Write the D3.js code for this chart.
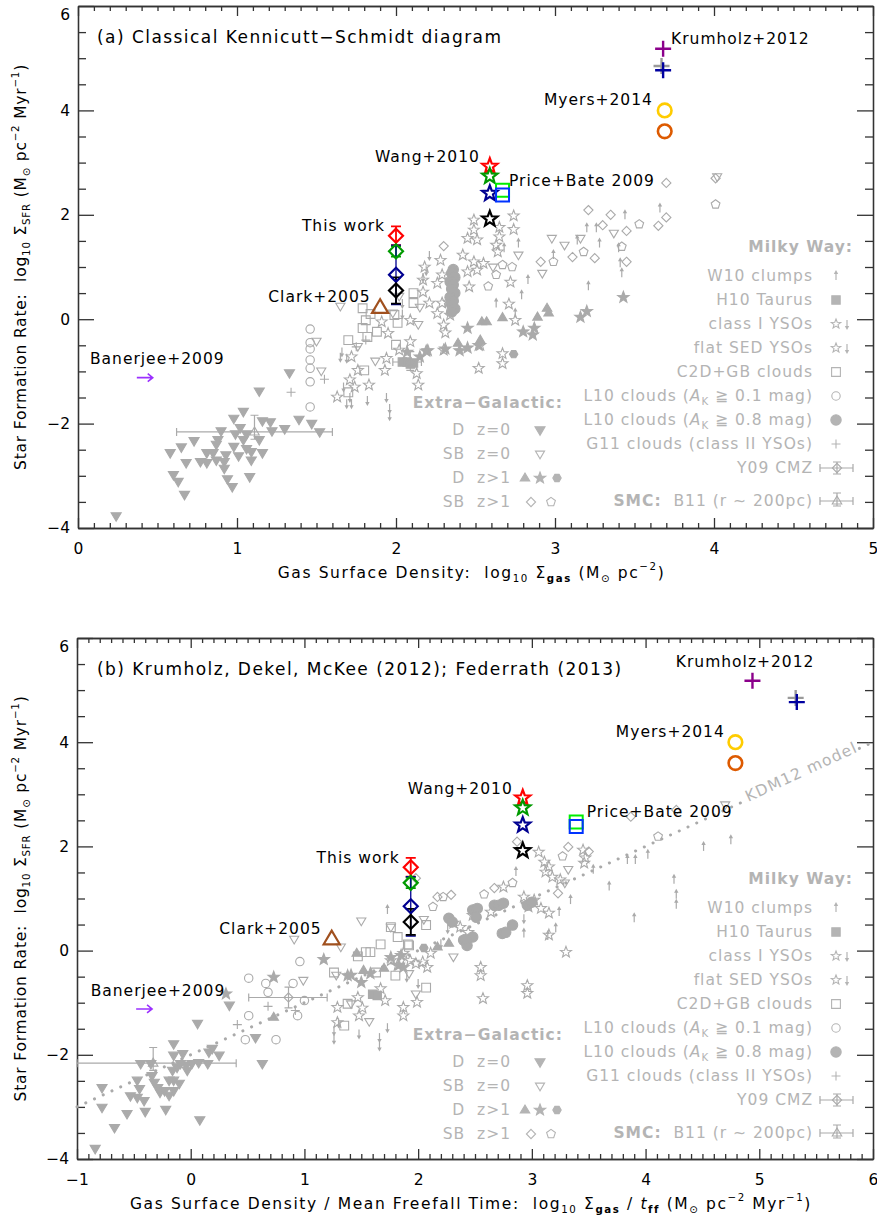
<!DOCTYPE html>
<html><head><meta charset="utf-8">
<script src="https://cdn.jsdelivr.net/npm/d3@7"></script>
<style>
body{margin:0;background:#fff;}
text{font-family:"DejaVu Sans",sans-serif;white-space:pre;}
</style></head><body><div id="chart"></div>
<script>
// ---------- data: panel (a), x = log Sigma_gas ----------
const aDz0 = [[0.24,-3.77],[1.33,-1.03],[1.14,-1.38],[1.04,-1.77],[0.98,-1.90],[1.21,-1.97],[1.16,-1.95],[1.39,-1.92],[1.47,-2.0],[1.30,-2.10],[1.22,-2.14],[1.52,-2.16],[0.90,-2.14],[0.99,-2.20],[1.06,-2.20],[1.02,-2.08],[0.73,-2.33],[0.88,-2.31],[1.14,-2.31],[0.58,-2.56],[0.65,-2.45],[0.81,-2.56],[0.87,-2.40],[0.98,-2.44],[1.06,-2.48],[1.09,-2.54],[1.16,-2.56],[1.01,-2.62],[0.85,-2.56],[0.93,-2.60],[0.68,-2.75],[0.81,-2.75],[0.87,-2.70],[0.92,-2.73],[0.92,-2.86],[1.09,-2.70],[0.60,-2.98],[0.63,-3.11],[0.67,-3.36],[0.94,-3.06],[0.97,-3.21],[1.08,-3.02],[1.04,-2.31],[0.77,-2.73]];
const aSBz0 = [[1.50,-0.42],[1.53,-0.99],[1.65,0.25],[1.98,0.12],[2.14,-0.10],[1.87,-0.80],[2.02,0.44],[2.15,0.23],[2.98,1.55],[3.06,1.42],[3.16,1.55],[3.37,1.65],[2.77,1.23],[2.92,0.88],[4.02,2.73],[2.61,1.00],[1.76,-0.52]];
const aDz1Tri = [[2.54,-0.05],[2.57,-0.05],[2.67,0.03],[2.89,0.04],[2.96,0.12],[2.95,0.21],[2.39,-0.46],[2.53,-0.40]];
const aDz1Star = [[2.45,-0.17],[2.45,-0.55],[2.52,-0.50],[2.80,-0.24],[2.86,-0.30],[2.87,-0.17],[3.16,0.04],[3.20,0.15],[3.43,0.42],[2.07,-0.63],[2.20,-0.60],[2.15,-0.72],[2.40,-0.60],[2.31,-0.57],[2.19,-0.61]];
const aDz1Hex = [[2.74,-0.67]];
const aSBz1Diam = [[3.21,2.09],[3.35,2.00],[3.45,1.69],[3.65,1.79],[3.70,1.95],[3.70,2.61],[4.01,2.70],[2.91,1.10],[3.11,1.19],[3.25,1.17],[3.45,1.10],[3.30,1.80],[2.30,1.40]];
const aSBz1Pent = [[3.53,1.82],[4.01,2.20],[2.99,1.10],[3.18,1.29],[3.42,1.39],[2.67,1.04],[2.73,1.00],[2.63,0.85],[2.58,0.63]];
const aW10 = [[3.20,1.74],[3.26,1.74],[3.44,1.99],[3.66,2.12],[3.14,1.51],[3.28,1.45],[3.40,1.36],[3.41,1.07],[3.42,0.88],[3.21,0.63],[2.99,1.23],[2.83,0.75],[2.79,0.46],[2.77,1.45],[2.63,0.30],[2.75,0.11],[2.68,1.36]];
const aH10 = [[2.04,-0.82],[2.07,-0.82],[2.09,-0.86],[2.11,-0.84]];
const aYSO = [[1.63,-1.49],[1.71,-1.16],[1.72,-0.72],[1.76,-0.98],[1.74,-1.30],[1.83,-1.26],[1.93,-0.98],[1.94,-0.75],[2.09,-0.43],[2.13,-1.04],[2.14,-1.26],[2.02,-0.59],[1.95,-0.27],[1.91,-0.05],[2.09,-0.02],[2.17,0.52],[2.21,0.31],[2.26,0.11],[2.29,0.31],[2.26,0.69],[2.28,1.13],[2.29,0.85],[2.33,0.33],[2.30,-0.11],[2.31,-0.26],[2.18,1.00],[2.17,0.75],[2.49,1.90],[2.49,1.71],[2.45,1.55],[2.51,1.52],[2.65,1.76],[2.65,1.58],[2.74,1.98],[2.74,1.72],[2.42,1.23],[2.49,1.10],[2.55,1.07],[2.51,0.94],[2.45,0.91],[2.46,0.62],[2.72,0.71],[2.71,0.29],[2.75,-0.02],[2.53,-0.50],[2.67,-0.66],[2.67,-0.85],[2.52,-0.94],[2.63,1.42],[2.64,1.29],[2.34,0.08],[2.30,-0.59]];
const aYSOLim = [[1.65,-0.72],[1.66,-0.62],[1.69,-0.74],[1.71,-1.49],[1.69,-1.61],[1.82,-1.55],[1.94,-1.49],[1.96,-1.70],[1.96,-1.84],[2.04,0.11],[2.04,0.31],[2.21,1.23],[2.19,0.94],[2.17,0.81],[1.67,-1.29],[1.72,-1.61]];
const aC2D = [[1.79,0.21],[1.81,-0.02],[1.70,-0.40],[1.80,-0.98],[1.70,-1.40],[2.11,0.50],[2.11,0.31],[2.01,-0.07],[2.00,-0.49],[1.82,-0.34],[1.88,-0.24],[1.79,-0.17],[1.99,0.08],[1.84,0.10]];
const aL10lo = [[1.46,-0.19],[1.46,-0.45],[1.46,-0.57],[1.46,-0.78],[1.46,-0.94],[1.46,-1.20],[1.46,-1.68]];
const aL10hi = [[2.36,0.95],[2.35,0.88],[2.37,0.80],[2.34,0.72],[2.36,0.66],[2.35,0.58],[2.37,0.50],[2.34,0.42],[2.36,0.35],[2.35,0.28],[2.37,0.20],[2.35,0.14]];
const aG11 = [[1.55,-1.15],[1.34,-1.40],[1.75,-0.53],[1.81,-0.40]];
const aY09 = [2.09,-0.82,1.98,2.16,-0.62,-0.98];   // x, y, xlo, xhi, yhi, ylo
const aB11 = [1.11,-2.16,0.62,1.60,-1.84,-2.30];

// ---------- data: panel (b), x = log Sigma_gas / t_ff ----------
const bDz0 = [[-0.84,-3.80],[-0.67,-3.40],[-0.78,-3.01],[-0.56,-3.13],[-0.40,-3.09],[-0.22,-3.05],[0.08,-3.25],[-0.78,-2.63],[-0.53,-2.79],[-0.47,-2.82],[-0.41,-2.88],[-0.45,-2.65],[-0.32,-2.53],[-0.29,-2.63],[-0.27,-2.72],[-0.23,-2.69],[-0.19,-2.78],[-0.15,-2.69],[-0.15,-2.49],[-0.10,-2.55],[-0.19,-2.49],[-0.16,-2.30],[-0.12,-2.24],[-0.15,-2.01],[-0.07,-1.98],[-0.04,-2.20],[-0.03,-2.30],[-0.15,-1.79],[-0.34,-2.40],[-0.35,-2.17],[-0.44,-2.17],[-0.47,-2.49],[-0.09,-2.17],[0.01,-2.17],[0.07,-2.15],[0.15,-2.17],[0.16,-1.95],[0.25,-2.01],[0.06,-1.40],[0.34,-1.05],[0.57,-1.67],[0.63,-2.17],[0.19,-1.88]];
const bSBz0 = [[0.91,0.22],[1.32,0.07],[1.50,0.57],[0.99,-0.57],[1.28,-0.47],[1.41,-1.02],[1.57,-1.36],[1.76,0.45],[1.98,-0.83],[2.05,0.60],[2.31,-0.12],[1.92,-0.44],[3.32,1.56],[3.29,1.30],[4.70,2.80]];
const bDz1Tri = [[1.46,-0.05],[2.17,0.07],[2.27,0.14],[0.73,-1.28],[1.52,-0.38],[1.70,-0.34]];
const bDz1Star = [[1.17,-0.17],[0.73,-0.51],[0.31,-0.83],[1.38,-0.48],[1.50,-0.61],[1.83,-0.28],[1.87,-0.32],[1.41,-0.47],[1.76,-0.13],[1.85,-0.09],[1.58,-0.44]];
const bDz1Hex = [[2.05,0.05]];
const bSBz1Diam = [[2.87,2.09],[3.32,1.99],[3.23,1.10],[2.67,1.20],[3.50,1.90],[3.87,2.57],[4.27,2.70],[2.29,1.07],[2.17,1.03],[1.98,1.39]];
const bSBz1Pent = [[4.11,2.19],[3.27,1.81],[2.83,1.30],[2.22,1.03],[2.58,1.08],[2.13,0.84]];
const bW10 = [[4.51,1.99],[4.75,2.12],[3.84,1.74],[3.91,1.74],[4.02,1.84],[4.25,1.36],[4.27,1.07],[4.27,0.88],[3.68,1.23],[3.90,0.62],[3.54,1.55],[3.34,0.97],[3.24,0.74],[2.93,0.33],[2.86,1.51],[3.21,0.43],[3.14,0.28],[1.73,0.78]];
const bH10 = [[1.60,-0.84],[1.64,-0.86]];
const bYSO = [[3.06,1.89],[3.11,1.70],[3.15,1.61],[3.12,1.51],[3.18,1.41],[3.25,1.36],[3.45,1.93],[3.47,1.78],[3.46,1.68],[2.75,1.22],[2.93,1.03],[3.02,0.97],[3.08,0.81],[3.15,0.72],[2.97,0.84],[3.15,0.30],[3.30,-0.03],[2.96,-0.67],[2.96,-0.82],[2.55,-0.32],[2.55,-0.48],[2.57,-0.92],[2.31,0.53],[1.87,-0.05],[1.93,-0.19],[1.98,-0.25],[2.04,-0.22],[2.08,-0.32],[2.11,-0.05],[1.76,-0.19],[1.82,-0.28],[1.71,-0.96],[1.87,-1.09],[1.87,-1.25],[1.48,-1.25],[1.29,-1.09],[1.51,-1.10],[1.99,-0.99],[2.37,0.45],[2.44,0.35],[2.64,0.74],[2.48,0.68],[1.47,-0.90],[1.67,-0.73],[1.29,-1.38]];
const bYSOLim = [[1.26,-1.53],[1.26,-1.69],[1.30,-1.38],[1.48,-1.59],[1.66,-1.66],[1.66,-1.82],[1.73,-1.47],[2.26,0.43],[2.20,0.14],[2.93,0.62],[1.90,-0.50],[2.00,-0.62]];
const bC2D = [[1.82,0.26],[1.76,0.45],[1.58,-0.03],[1.54,-0.03],[1.47,-0.11],[1.26,-0.42],[1.67,0.12],[2.07,0.49],[1.91,0.12],[1.63,-0.42],[1.80,-0.48],[2.07,-0.71],[1.35,-1.44],[1.38,-1.02],[1.92,0.10]];
const bL10lo = [[0.96,-0.21],[0.51,-0.53],[0.66,-0.63],[0.68,-0.80],[0.90,-0.63],[1.00,-0.96],[0.94,-1.25],[0.51,-1.25],[0.48,-1.71],[0.75,-1.71]];
const bL10hi = [[2.48,0.78],[2.52,0.81],[2.27,0.62],[2.40,0.20],[2.43,0.10],[2.48,0.26],[2.67,0.87],[2.42,0.22],[2.51,0.64],[2.71,0.87],[2.75,0.91],[2.74,0.33],[2.83,0.49],[2.96,0.87],[3.00,0.93],[2.77,0.35],[2.30,0.55]];
const bG11 = [[0.68,-1.07],[0.41,-1.42],[0.92,-1.15]];
const bY09 = [0.86,-0.90,0.51,1.20,-0.70,-1.10];
const bB11 = [-0.33,-2.16,-1.0,0.40,-1.86,-2.30];
const kdm12 = [[-1,-3.0],[6,4.0]];   // KDM12 model line end points

// ---------- highlighted simulations (same y in both panels) ----------
const thisWorkX = [2.00, 1.935];
const thisWorkY = [1.60, 1.30, 0.85, 0.55];
const thisWorkLo = [1.42, 1.20, 0.28, 0.30];
const thisWorkHi = [1.78, 1.40, 1.42, 0.80];
const fourColors = ["#ff0000", "#009a00", "#000090", "#000000"];
const wangX = [2.59, 2.92];
const wangY = [2.93, 2.74, 2.41, 1.92];
const priceX = [2.67, 3.39];
const priceY = [2.47, 2.38];
const priceColors = ["#00ee00", "#0033ff"];
const krumX = [[3.68, 3.67, 3.68], [4.94, 5.32, 5.33]];
const krumY = [5.18, 4.85, 4.77];
const krumColors = ["#8b008b", "#9a9a9a", "#0000a0"];
const myersX = [3.69, 4.79];
const myersY = [4.00, 3.60];
const myersColors = ["#ffcc00", "#dd5a00"];
const clarkX = [1.90, 1.24];
const clarkY = 0.20;
const banerjeeX = [[0.37, 0.47], [-0.48, -0.34]];
const banerjeeY = -1.12;

const labelsA = [["This work",1.931,1.78,"end"],["Clark+2005",1.841,0.425,"end"],["Wang+2010",2.528,3.107,"end"],["Price+Bate 2009",2.711,2.648,"start"],["Krumholz+2012",3.73,5.368,"start"],["Myers+2014",3.616,4.199,"end"],["Banerjee+2009",0.075,-0.762,"start"]];
const labelsB = [["This work",1.838,1.775,"end"],["Clark+2005",1.152,0.41,"end"],["Wang+2010",2.832,3.10,"end"],["Price+Bate 2009",3.483,2.66,"start"],["Krumholz+2012",4.266,5.544,"start"],["Myers+2014",4.697,4.198,"end"],["Banerjee+2009",-0.88,-0.783,"start"]];

const xTicksA = [0,1,2,3,4,5];
const xTicksB = [-1,0,1,2,3,4,5,6];
const yTicks = [-4,-2,0,2,4,6];

const GREY = "#aaaaaa", LGREY = "#b4b4b4", FS = 15.5;
const W = 877, H = 1217;

const svg = d3.select("#chart").append("svg").attr("width", W).attr("height", H);

// ---------- helpers ----------
function rich(sel, parts, fs) {
    let shift = 0;
    parts.forEach(function(p){
        const ts = sel.append("tspan").text(p.t);
        const target = p.sub ? fs*0.32 : (p.sup ? -fs*0.42 : 0);
        if (target !== shift) { ts.attr("dy", target - shift); shift = target; }
        if (p.sub || p.sup) ts.attr("font-size", fs*0.66);
        if (p.b) ts.attr("font-weight", "bold");
        if (p.i) ts.attr("font-style", "italic");
    });
}

function poly(n, r, rot) {
    const pts = d3.range(n).map(function(i){
        const a = rot + i*2*Math.PI/n;
        return [r*Math.sin(a), -r*Math.cos(a)];
    });
    return "M" + pts.join("L") + "Z";
}
function starPath(r) {
    const pts = d3.range(10).map(function(i){
        const a = i*Math.PI/5, rr = i%2 ? r*0.42 : r;
        return [rr*Math.sin(a), -rr*Math.cos(a)];
    });
    return "M" + pts.join("L") + "Z";
}
const SH = {
    dtri: function(r){ return "M0,"+r+"L"+(-r*0.95)+","+(-r*0.6)+"L"+(r*0.95)+","+(-r*0.6)+"Z"; },
    utri: function(r){ return "M0,"+(-r)+"L"+(-r*0.95)+","+(r*0.6)+"L"+(r*0.95)+","+(r*0.6)+"Z"; },
    diam: function(r){ return "M0,"+(-r)+"L"+r+",0L0,"+r+"L"+(-r)+",0Z"; },
    sq: function(r){ return "M"+(-r)+","+(-r)+"H"+r+"V"+r+"H"+(-r)+"Z"; },
    star: starPath,
    pent: function(r){ return poly(5, r, 0); },
    hex: function(r){ return poly(6, r, Math.PI/6); },
    circ: function(r){ const p = d3.path(); p.arc(0,0,r,0,2*Math.PI); return p.toString(); },
    plus: function(r){ return "M"+(-r)+",0H"+r+"M0,"+(-r)+"V"+r; }
};
const MARKS = {
    dtriF: ["dtri",5.3,true], dtriO: ["dtri",4.8,false], utriF: ["utri",5,true], utriO: ["utri",5,false],
    starF: ["star",6,true], hexF: ["hex",4.2,true], diamO: ["diam",4.6,false],
    pentO: ["pent",4.6,false], starO: ["star",5.8,false], sqF: ["sq",4.2,true],
    sqO: ["sq",4.4,false], circO: ["circ",4.2,false], circF: ["circ",5.2,true],
    plus: ["plus",4.5,false], starS: ["star",5,false]
};
function mark(g, type, px, py, col) {
    col = col || GREY;
    if (type === "arrUp" || type === "arrDn") {
        const s = type === "arrUp" ? 1 : -1;
        g.append("path").attr("transform","translate("+px+","+py+")")
            .attr("d","M0,"+(4*s)+"V"+(-3*s)).attr("stroke",col).attr("stroke-width",1.2);
        g.append("path").attr("transform","translate("+px+","+py+")")
            .attr("d","M-2.2,"+(-2*s)+"L0,"+(-6*s)+"L2.2,"+(-2*s)+"Z").attr("fill",col);
        return;
    }
    const m = MARKS[type];
    g.append("path").attr("transform","translate("+px+","+py+")")
        .attr("d", SH[m[0]](m[1]))
        .attr("fill", m[2] ? col : "none")
        .attr("stroke", col).attr("stroke-width", 1.1);
}
function errMark(g, px, py, x0, x1, y0, y1, type) {
    g.append("path").attr("d","M"+x0+","+py+"H"+x1+"M"+x0+","+(py-4)+"V"+(py+4)+"M"+x1+","+(py-4)+"V"+(py+4))
        .attr("stroke",GREY).attr("stroke-width",1.2).attr("fill","none");
    g.append("path").attr("d","M"+px+","+y0+"V"+y1+"M"+(px-4)+","+y0+"H"+(px+4)+"M"+(px-4)+","+y1+"H"+(px+4))
        .attr("stroke",GREY).attr("stroke-width",1.2).attr("fill","none");
    mark(g, type, px, py);
}

// legend rows (text parts + symbols)
const mwRows = [
    [[{t:"W10 clumps"}], ["arrUp"]],
    [[{t:"H10 Taurus"}], ["sqF"]],
    [[{t:"class I YSOs"}], ["starS","arrDn"]],
    [[{t:"flat SED YSOs"}], ["starS","arrDn"]],
    [[{t:"C2D+GB clouds"}], ["sqO"]],
    [[{t:"L10 clouds ("},{t:"A",i:1},{t:"K",sub:1},{t:" ≧ 0.1 mag)"}], ["circO"]],
    [[{t:"L10 clouds ("},{t:"A",i:1},{t:"K",sub:1},{t:" ≧ 0.8 mag)"}], ["circF"]],
    [[{t:"G11 clouds (class II YSOs)"}], ["plus"]],
    [[{t:"Y09 CMZ"}], ["y09"]]
];
const egRows = [
    [[{t:"D  z=0"}], [["dtriF",540]]],
    [[{t:"SB  z=0"}], [["dtriO",540]]],
    [[{t:"D  z>1"}], [["utriF",525],["starF",540],["hexF",557]]],
    [[{t:"SB  z>1"}], [["diamO",531],["pentO",551]]]
];

function drawPanel(P) {
    const x = d3.scaleLinear().domain(P.xDom).range([P.left, P.right]);
    const y = d3.scaleLinear().domain([-4, 6]).range([P.bottom, P.top]);
    const g = svg.append("g");

    // axes: ticks on all four sides, pointing inward
    const xMinor = d3.range(P.xDom[0], P.xDom[1] + 1e-6, 0.1).filter(function(v){ return Math.abs(v - Math.round(v)) > 1e-6; });
    const yMinor = d3.range(-4, 6.001, 0.5).filter(function(v){ return v % 2 !== 0; });
    const fmt = function(d){ return d < 0 ? "\u2212" + (-d) : d; };
    const ax = [
        [d3.axisBottom(x).tickValues(P.xTicks).tickSize(-10).tickPadding(15).tickFormat(fmt), "translate(0,"+P.bottom+")"],
        [d3.axisBottom(x).tickValues(xMinor).tickSize(-5).tickFormat(""), "translate(0,"+P.bottom+")"],
        [d3.axisTop(x).tickValues(P.xTicks).tickSize(-10).tickFormat(""), "translate(0,"+P.top+")"],
        [d3.axisTop(x).tickValues(xMinor).tickSize(-5).tickFormat(""), "translate(0,"+P.top+")"],
        [d3.axisLeft(y).tickValues(yTicks).tickSize(-16).tickPadding(8).tickFormat(fmt), "translate("+P.left+",0)"],
        [d3.axisLeft(y).tickValues(yMinor).tickSize(-8).tickFormat(""), "translate("+P.left+",0)"],
        [d3.axisRight(y).tickValues(yTicks).tickSize(-16).tickFormat(""), "translate("+P.right+",0)"],
        [d3.axisRight(y).tickValues(yMinor).tickSize(-8).tickFormat(""), "translate("+P.right+",0)"]
    ];
    ax.forEach(function(a, i){
        const ag = g.append("g").attr("transform", a[1]).call(a[0].tickSizeOuter(0));
        ag.selectAll("path,line").attr("stroke", "#333").attr("stroke-width", 1.3);
        ag.selectAll("text").attr("font-size", FS).attr("font-family", "DejaVu Sans").attr("fill", "#000");
        // top label sits a little lower so it is not cut by the frame
        if (i === 4) ag.selectAll(".tick").filter(function(d){ return d === 6; })
            .select("text").attr("dy", "0.9em");
    });

    // model line
    if (P.model) {
        const seg = function(x0, x1){
            g.append("line").attr("x1", x(x0)).attr("y1", y(x0 - 2)).attr("x2", x(x1)).attr("y2", y(x1 - 2))
                .attr("stroke", GREY).attr("stroke-width", 3).attr("stroke-linecap", "round")
                .attr("stroke-dasharray", "0.1,9.5");
        };
        seg(P.model[0][0], 4.86);
        seg(5.88, P.model[1][0]);
        const ang = Math.atan2(y(5) - y(4), x(5) - x(4)) * 180 / Math.PI;
        g.append("text").attr("transform", "translate("+x(5.37)+","+(y(3.37)-3)+") rotate("+ang+")")
            .attr("text-anchor", "middle").attr("dominant-baseline", "central")
            .attr("font-size", FS).attr("letter-spacing", 1.2).attr("fill", LGREY).text("KDM12 model");
    }

    // grey literature data
    const D = P.d;
    [[D.SBz1Diam,"diamO"],[D.SBz1Pent,"pentO"],[D.SBz0,"dtriO"],[D.C2D,"sqO"],[D.L10lo,"circO"],
     [D.YSO,"starO"],[D.YSOLim,"arrDn"],[D.W10,"arrUp"],[D.G11,"plus"],[D.Dz0,"dtriF"],
     [D.Dz1Tri,"utriF"],[D.Dz1Star,"starF"],[D.Dz1Hex,"hexF"],[D.L10hi,"circF"],[D.H10,"sqF"]]
        .forEach(function(s){ s[0].forEach(function(p){ mark(g, s[1], x(p[0]), y(p[1])); }); });
    errMark(g, x(D.Y09[0]), y(D.Y09[1]), x(D.Y09[2]), x(D.Y09[3]), y(D.Y09[4]), y(D.Y09[5]), "diamO");
    errMark(g, x(D.B11[0]), y(D.B11[1]), Math.max(x(D.B11[2]), P.left), x(D.B11[3]), y(D.B11[4]), y(D.B11[5]), "utriO");

    // highlighted points
    const k = P.k;
    thisWorkY.forEach(function(v, i){
        const px = x(thisWorkX[k]);
        g.append("path").attr("d", "M"+px+","+y(thisWorkLo[i])+"V"+y(thisWorkHi[i])
            + "M"+(px-5)+","+y(thisWorkLo[i])+"H"+(px+5)+"M"+(px-5)+","+y(thisWorkHi[i])+"H"+(px+5))
            .attr("stroke", fourColors[i]).attr("stroke-width", i === 2 ? 1.3 : 1.8).attr("fill", "none");
    });
    thisWorkY.forEach(function(v, i){
        g.append("path").attr("transform", "translate("+x(thisWorkX[k])+","+y(v)+")")
            .attr("d", SH.diam(7)).attr("fill", "none").attr("stroke", fourColors[i]).attr("stroke-width", 2.2);
    });
    wangY.forEach(function(v, i){
        g.append("path").attr("transform", "translate("+x(wangX[k])+","+y(v)+")")
            .attr("d", starPath(8)).attr("fill", "none").attr("stroke", fourColors[i]).attr("stroke-width", 2.2);
    });
    priceY.forEach(function(v, i){
        g.append("path").attr("transform", "translate("+x(priceX[k])+","+y(v)+")")
            .attr("d", SH.sq(6.5)).attr("fill", "none").attr("stroke", priceColors[i]).attr("stroke-width", 2);
    });
    krumY.forEach(function(v, i){
        g.append("path").attr("transform", "translate("+x(krumX[k][i])+","+y(v)+")")
            .attr("d", SH.plus(8)).attr("fill", "none").attr("stroke", krumColors[i]).attr("stroke-width", 2.4);
    });
    myersY.forEach(function(v, i){
        g.append("circle").attr("cx", x(myersX[k])).attr("cy", y(v)).attr("r", 6.8)
            .attr("fill", "none").attr("stroke", myersColors[i]).attr("stroke-width", 2.6);
    });
    g.append("path").attr("transform", "translate("+x(clarkX[k])+","+(y(clarkY)-1)+")")
        .attr("d", SH.utri(8.5)).attr("fill", "none").attr("stroke", "#a0501e").attr("stroke-width", 2.2);
    const bx0 = x(banerjeeX[k][0]), bx1 = x(banerjeeX[k][1]), by = y(banerjeeY);
    g.append("path").attr("d", "M"+bx0+","+by+"H"+bx1+"M"+(bx1-5)+","+(by-4)+"L"+bx1+","+by+"L"+(bx1-5)+","+(by+4))
        .attr("fill", "none").attr("stroke", "#9b30ff").attr("stroke-width", 1.6);

    // labels
    P.labels.forEach(function(l){
        g.append("text").attr("x", x(l[1])).attr("y", y(l[2])).attr("text-anchor", l[3])
            .attr("dominant-baseline", "central").attr("font-size", FS).attr("letter-spacing", 1)
            .attr("fill", "#000").text(l[0]);
    });
    g.append("text").attr("x", 97).attr("y", P.top + 31).attr("dominant-baseline", "central")
        .attr("font-size", 17).attr("letter-spacing", 1.45).text(P.title);

    // legends
    const t0 = P.top;
    const lt = function(px, py, parts, bold){
        const t = g.append("text").attr("x", px).attr("y", py).attr("text-anchor", "end")
            .attr("dominant-baseline", "central").attr("font-size", FS).attr("letter-spacing", 1)
            .attr("fill", LGREY);
        if (bold) t.attr("font-weight", "bold");
        rich(t, parts, FS);
    };
    lt(853, t0 + 241, [{t:"Milky Way:"}], true);
    mwRows.forEach(function(r, i){
        const py = t0 + 270 + 24*i;
        lt(813, py, r[0]);
        r[1].forEach(function(s, j){
            if (s === "y09") errMark(g, 837, py, 820, 853, py - 6, py + 6, "diamO");
            else mark(g, s, 836 + 11*j, py, LGREY);
        });
    });
    const sg = g.append("text").attr("x", 813).attr("y", t0 + 495).attr("text-anchor", "end")
        .attr("dominant-baseline", "central").attr("font-size", FS).attr("letter-spacing", 1).attr("fill", LGREY);
    rich(sg, [{t:"SMC:", b:1}, {t:"  B11 (r \u223C 200pc)"}], FS);
    errMark(g, 837, t0 + 495, 820, 853, t0 + 487, t0 + 500, "utriO");

    lt(563, t0 + 397, [{t:"Extra\u2212Galactic:"}], true);
    egRows.forEach(function(r, i){
        const py = t0 + 424 + 24*i;
        lt(511, py, r[0]);
        r[1].forEach(function(s){ mark(g, s[0], s[1], py, LGREY); });
    });

    // axis titles
    const xt = g.append("text").attr("x", (P.left + P.right)/2 - 4).attr("y", P.bottom + 45)
        .attr("text-anchor", "middle").attr("dominant-baseline", "central").attr("font-size", FS).attr("letter-spacing", 1.6);
    rich(xt, P.xTitle, FS);
    const yt = g.append("text").attr("transform", "translate(21,"+((P.top + P.bottom)/2)+") rotate(-90)")
        .attr("text-anchor", "middle").attr("dominant-baseline", "central").attr("font-size", FS).attr("letter-spacing", 0.8);
    rich(yt, [{t:"Star Formation Rate:  log"},{t:"10",sub:1},{t:" \u03A3"},{t:"SFR",sub:1},{t:" (M"},{t:"\u2299",sub:1},
              {t:" pc"},{t:"\u22122",sup:1},{t:" Myr"},{t:"\u22121",sup:1},{t:")"}], FS);
}

drawPanel({
    k: 0, top: 6, bottom: 528, left: 78, right: 873, xDom: [0, 5], xTicks: xTicksA,
    title: "(a) Classical Kennicutt\u2212Schmidt diagram", labels: labelsA,
    d: {Dz0:aDz0, SBz0:aSBz0, Dz1Tri:aDz1Tri, Dz1Star:aDz1Star, Dz1Hex:aDz1Hex, SBz1Diam:aSBz1Diam, SBz1Pent:aSBz1Pent,
        W10:aW10, H10:aH10, YSO:aYSO, YSOLim:aYSOLim, C2D:aC2D, L10lo:aL10lo, L10hi:aL10hi, G11:aG11, Y09:aY09, B11:aB11},
    xTitle: [{t:"Gas Surface Density:  log"},{t:"10",sub:1},{t:" \u03A3"},{t:"gas",sub:1,b:1},{t:" (M"},{t:"\u2299",sub:1},
             {t:" pc"},{t:"\u22122",sup:1},{t:")"}]
});
drawPanel({
    k: 1, top: 638, bottom: 1159, left: 77, right: 873, xDom: [-1, 6], xTicks: xTicksB,
    title: "(b) Krumholz, Dekel, McKee (2012); Federrath (2013)", labels: labelsB, model: kdm12,
    d: {Dz0:bDz0, SBz0:bSBz0, Dz1Tri:bDz1Tri, Dz1Star:bDz1Star, Dz1Hex:bDz1Hex, SBz1Diam:bSBz1Diam, SBz1Pent:bSBz1Pent,
        W10:bW10, H10:bH10, YSO:bYSO, YSOLim:bYSOLim, C2D:bC2D, L10lo:bL10lo, L10hi:bL10hi, G11:bG11, Y09:bY09, B11:bB11},
    xTitle: [{t:"Gas Surface Density / Mean Freefall Time:  log"},{t:"10",sub:1},{t:" \u03A3"},{t:"gas",sub:1,b:1},{t:" / "},
             {t:"t",i:1},{t:"ff",sub:1,b:1},{t:" (M"},{t:"\u2299",sub:1},{t:" pc"},{t:"\u22122",sup:1},{t:" Myr"},{t:"\u22121",sup:1},{t:")"}]
});
</script></body></html>
